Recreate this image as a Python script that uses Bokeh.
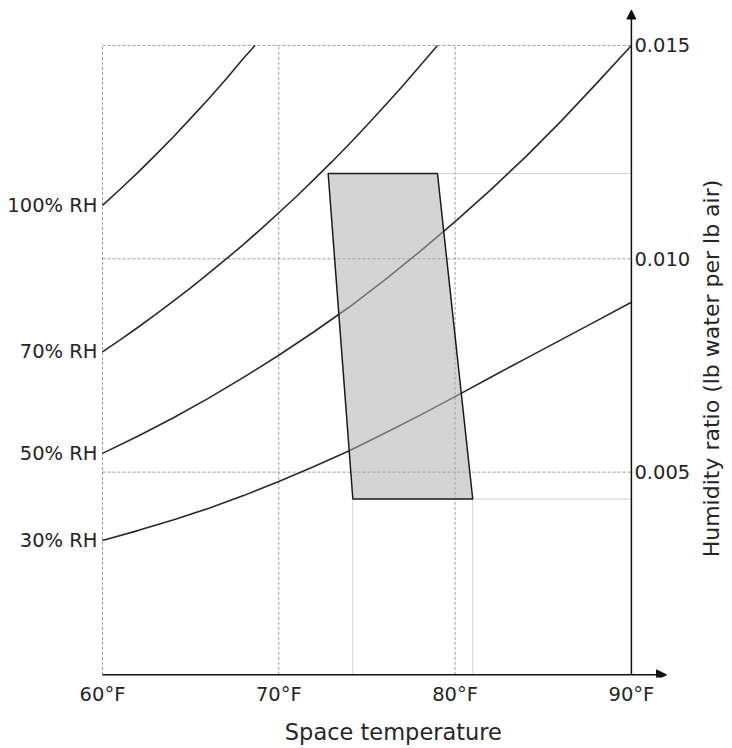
import math
from bokeh.plotting import figure
from bokeh.models import Range1d, FixedTicker, Arrow, NormalHead, LinearAxis
from bokeh.core.properties import value
from bokeh.embed import file_html
from bokeh.resources import INLINE

# ---------------- data ----------------
temps_100 = [60, 61, 62, 63, 64, 65, 66, 67, 68, 68.65]
rh100 = [0.01125, 0.01163, 0.01202, 0.01243, 0.01285, 0.01329, 0.01374,
         0.01421, 0.01470, 0.01500]

temps_70 = [60, 61, 62, 63, 64, 65, 66, 67, 68, 69, 70, 71, 72, 73, 74, 75,
            76, 77, 78, 79]
rh70 = [0.00782, 0.00810, 0.00839, 0.00869, 0.00900, 0.00932, 0.00965, 0.00999,
        0.01034, 0.01070, 0.01108, 0.01146, 0.01186, 0.01227, 0.01269, 0.01313,
        0.01358, 0.01404, 0.01452, 0.01500]

temps_50 = [60, 62, 64, 66, 68, 70, 72, 74, 76, 78, 80, 82, 84, 86, 88, 90]
rh50 = [0.00544, 0.00584, 0.00627, 0.00673, 0.00722, 0.00774, 0.00829, 0.00887,
        0.00950, 0.01017, 0.01087, 0.01161, 0.01239, 0.01322, 0.01410, 0.01500]

temps_30 = [60, 62, 64, 66, 68, 70, 72, 74, 76, 78, 80, 82, 84, 86, 88, 90]
rh30 = [0.00340, 0.00363, 0.00388, 0.00415, 0.00445, 0.00478, 0.00513, 0.00550,
        0.00591, 0.00633, 0.00677, 0.00722, 0.00766, 0.00810, 0.00854, 0.00898]

rh_labels = ["100% RH", "70% RH", "50% RH", "30% RH"]

zone_t = [72.8, 79.0, 81.0, 74.2]
zone_w = [0.0120, 0.0120, 0.00437, 0.00437]

x_ticks = [60, 70, 80, 90]
x_tick_labels = ["60°F", "70°F", "80°F", "90°F"]
y_ticks = [0.005, 0.010, 0.015]
y_tick_labels = ["0.005", "0.010", "0.015"]
grid_t = [60, 70, 80]

x_title = "Space temperature"
y_title = "Humidity ratio (lb water per lb air)"

# ---------------- layout constants ----------------
T_MIN, T_MAX = 60, 90
W_AXIS = 0.00025          # where the temperature axis sits
W_TOP = 0.015
T_ARROW = 91.99           # tip of the horizontal arrow
W_ARROW = 0.01583         # tip of the vertical arrow

PX_F = 17.63              # pixels per degree F
PX_W = 42670.0            # pixels per unit humidity ratio
FRAME_W, FRAME_H = 732, 677
X60_PX = 102              # 60F from frame left
W010_PX = 258.3           # 0.010 from frame top

x_start = 60 - X60_PX / PX_F
x_end = x_start + FRAME_W / PX_F
y_end = 0.010 + W010_PX / PX_W
y_start = y_end - FRAME_H / PX_W

X_TITLE_T = 76.5          # centre of the x title (data)
Y_TITLE_T = 60 + (711 - X60_PX) / PX_F
Y_TITLE_W = 0.010 - (368 - W010_PX) / PX_W

FONT = "DejaVu Sans"
TXT = "#262626"
LINE = "#2a2a2a"

p = figure(frame_width=FRAME_W, frame_height=FRAME_H,
           x_range=Range1d(x_start, x_end), y_range=Range1d(y_start, y_end),
           output_backend="svg", toolbar_location=None, y_axis_location=None,
           min_border_left=0, min_border_right=0, min_border_top=0,
           min_border_bottom=71)
p.outline_line_color = None
p.xgrid.visible = False
p.ygrid.visible = False
p.background_fill_color = "white"
p.border_fill_color = "white"

xa = p.xaxis[0]
xa.ticker = FixedTicker(ticks=x_ticks)
xa.major_label_overrides = {t: lab for t, lab in zip(x_ticks, x_tick_labels)}
xa.axis_line_color = None
xa.major_tick_line_color = None
xa.minor_tick_line_color = None
xa.major_tick_out = 0
xa.major_label_standoff = 5
xa.major_label_text_font = FONT
xa.major_label_text_font_size = "19.5px"
xa.major_label_text_color = TXT

# the x title is drawn as the single label of a second bottom axis, so that it
# can be centred where the reference centres it
ta = LinearAxis(ticker=FixedTicker(ticks=[X_TITLE_T]),
                major_label_overrides={X_TITLE_T: x_title},
                axis_line_color=None, major_tick_line_color=None,
                minor_tick_line_color=None, major_tick_out=0, major_tick_in=0,
                major_label_standoff=10, major_label_text_font=FONT,
                major_label_text_font_size="22.5px", major_label_text_color=TXT)
p.add_layout(ta, "below")

# dashed grid
p.segment(x0=grid_t, y0=[W_AXIS] * len(grid_t), x1=grid_t, y1=[W_TOP] * len(grid_t),
          line_color="#9a9a9a", line_width=1, line_dash="3 2")
p.segment(x0=[T_MIN] * len(y_ticks), y0=y_ticks, x1=[T_MAX] * len(y_ticks), y1=y_ticks,
          line_color="#9a9a9a", line_width=1, line_dash="3 2")

# thin guide lines from the comfort zone to the axes
p.segment(x0=[zone_t[1], zone_t[2]], y0=[zone_w[1], zone_w[2]],
          x1=[T_MAX, T_MAX], y1=[zone_w[1], zone_w[2]],
          line_color="#d2d2d2", line_width=1)
p.segment(x0=[zone_t[3], zone_t[2]], y0=[W_AXIS, W_AXIS],
          x1=[zone_t[3], zone_t[2]], y1=[zone_w[3], zone_w[2]],
          line_color="#d2d2d2", line_width=1)

# RH curves
for ts, ws in [(temps_100, rh100), (temps_70, rh70), (temps_50, rh50), (temps_30, rh30)]:
    p.line(ts, ws, line_color=LINE, line_width=1.6)

# comfort zone
p.patch(zone_t, zone_w, fill_color="#b0b0b0", fill_alpha=0.55,
        line_color="#1a1a1a", line_width=1.5)

# axes with arrows
p.add_layout(Arrow(end=NormalHead(size=10, fill_color="#111111", line_color="#111111", line_width=1),
                   x_start=T_MIN, y_start=W_AXIS, x_end=T_ARROW, y_end=W_AXIS,
                   line_color="#111111", line_width=1.5))
p.add_layout(Arrow(end=NormalHead(size=9, fill_color="#111111", line_color="#111111", line_width=1),
                   x_start=T_MAX, y_start=W_AXIS, x_end=T_MAX, y_end=W_ARROW,
                   line_color="#111111", line_width=1.5))

# RH labels at the start of each curve
start_w = [rh100[0], rh70[0], rh50[0], rh30[0]]
p.text(x=[T_MIN] * 4, y=start_w, text=rh_labels, x_offset=-5,
       text_align="right", text_baseline="middle",
       text_font=value(FONT), text_font_size="19.5px", text_color=TXT)

# humidity ratio tick labels (right of the vertical axis)
p.text(x=[T_MAX] * len(y_ticks), y=y_ticks, text=y_tick_labels, x_offset=3,
       text_align="left", text_baseline="middle",
       text_font=value(FONT), text_font_size="19.5px", text_color=TXT)

# vertical axis title
p.text(x=[Y_TITLE_T], y=[Y_TITLE_W], text=[y_title],
       angle=math.pi / 2, text_align="center", text_baseline="middle",
       text_font=value(FONT), text_font_size="22px", text_color=TXT)

open("out.html", "w").write(file_html(p, INLINE))
